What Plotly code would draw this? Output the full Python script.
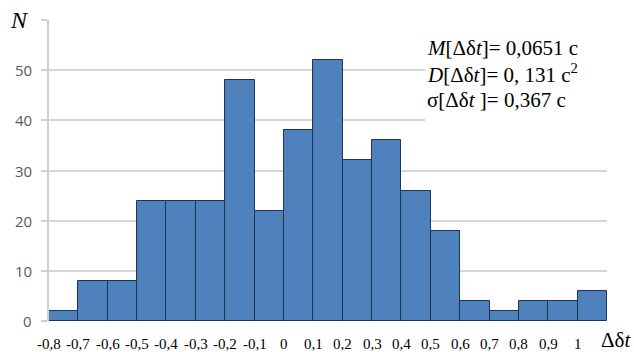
import plotly.graph_objects as go

# Histogram data (bin left edges, width 0.1) and counts
bin_left = [-0.8, -0.7, -0.6, -0.5, -0.4, -0.3, -0.2, -0.1, 0.0, 0.1,
            0.2, 0.3, 0.4, 0.5, 0.6, 0.7, 0.8, 0.9, 1.0]
counts = [2, 8, 8, 24, 24, 24, 48, 22, 38, 52,
          32, 36, 26, 18, 4, 2, 4, 4, 6]
bin_width = 0.1

x_tickvals = [-0.8, -0.7, -0.6, -0.5, -0.4, -0.3, -0.2, -0.1, 0.0, 0.1,
              0.2, 0.3, 0.4, 0.5, 0.6, 0.7, 0.8, 0.9, 1.0]
x_ticktext = ["-0,8", "-0,7", "-0,6", "-0,5", "-0,4", "-0,3", "-0,2", "-0,1", "0", "0,1",
              "0,2", "0,3", "0,4", "0,5", "0,6", "0,7", "0,8", "0,9", "1"]
y_tickvals = [0, 10, 20, 30, 40, 50, 60]
y_ticktext = ["0", "10", "20", "30", "40", "50", ""]

stats_lines = [
    "<i>M</i>[Δδ<i>t</i>]= 0,0651 c",
    "<i>D</i>[Δδ<i>t</i>]= 0, 131 c<sup>2</sup>",
    "σ[Δδ<i>t</i> ]= 0,367 c",
]

centers = [l + bin_width / 2 for l in bin_left]

fig = go.Figure()
fig.add_trace(go.Bar(
    x=centers, y=counts, width=[bin_width] * len(counts),
    marker=dict(color="#4F81BD", line=dict(color="#1F3556", width=1)),
    showlegend=False, hoverinfo="skip",
))

serif = "Liberation Serif"

fig.update_layout(
    width=634, height=352,
    margin=dict(l=49, r=27, t=20, b=31, autoexpand=False),
    paper_bgcolor="white", plot_bgcolor="white",
    bargap=0,
)
fig.update_xaxes(
    range=[-0.8, 1.1], tickmode="array", tickvals=x_tickvals,
    showticklabels=False, showgrid=False, zeroline=False, showline=False, ticks="",
    automargin=False,
)
fig.update_yaxes(
    range=[0, 60], tickmode="array", tickvals=y_tickvals,
    showticklabels=False,
    showgrid=True, gridcolor="#D6D6D6", gridwidth=1.5,
    zeroline=False, showline=True, linecolor="#CFCFCF", linewidth=1.5,
    ticks="outside", ticklen=6, tickcolor="#CFCFCF", tickwidth=1.5,
    automargin=False,
)

# x tick labels, positioned on the x scale
for v, t in zip(x_tickvals, x_ticktext):
    fig.add_annotation(text=t, x=v, xref="x", y=-0.076, yref="paper",
                       xanchor="center", yanchor="middle", showarrow=False,
                       font=dict(family=serif, size=15, color="black"))

# y tick labels, positioned on the y scale
for v, t in zip(y_tickvals, y_ticktext):
    if t:
        fig.add_annotation(text=t, x=-0.027, xref="paper", y=v, yref="y",
                           xanchor="right", yanchor="middle", showarrow=False,
                           font=dict(family="Open Sans", size=15, color="#595959"))

# white box behind the statistics text (covers gridlines)
fig.add_shape(type="rect", xref="paper", yref="paper",
              x0=0.674, x1=1.05, y0=0.64, y1=0.965,
              fillcolor="white", line=dict(width=0), layer="above")

ys = [0.907, 0.821, 0.734]
for txt, yy in zip(stats_lines, ys):
    fig.add_annotation(text=txt, xref="paper", yref="paper", x=0.674, y=yy,
                       xanchor="left", yanchor="middle", showarrow=False,
                       font=dict(family=serif, size=21, color="black"))

fig.add_annotation(text="<i>N</i>", xref="paper", yref="paper",
                   x=-0.053, y=1.0, xanchor="center", yanchor="middle", showarrow=False,
                   font=dict(family=serif, size=24, color="black"))
fig.add_annotation(text="Δδ<i>t</i>", xref="paper", yref="paper",
                   x=1.046, y=-0.063, xanchor="right", yanchor="middle", showarrow=False,
                   font=dict(family=serif, size=21, color="black"))

fig.write_html("out.html")
